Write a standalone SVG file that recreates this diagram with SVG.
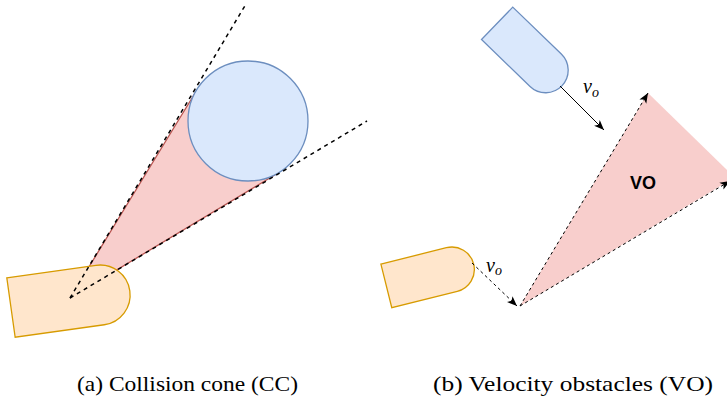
<svg xmlns="http://www.w3.org/2000/svg" width="727" height="401" viewBox="0 0 727 401">
<style>
.orange{fill:#ffe6cc;stroke:#d79b00;stroke-width:1.3}
.blue{fill:#dae8fc;stroke:#6c8ebf;stroke-width:1.3}
.pink{fill:#f8cecc;stroke:none}
.red{stroke:#b85450;stroke-width:1.3;fill:none}
.dashL{stroke:#000;stroke-width:1.5;stroke-dasharray:4 4;fill:none}
.dashR{stroke:#000;stroke-width:1;stroke-dasharray:3 3;fill:none}
.solid{stroke:#000;stroke-width:1;fill:none}
.math{font-family:"Liberation Serif",serif;font-style:italic;fill:#000}
.cap{font-family:"Liberation Serif",serif;font-size:21px;fill:#000}
.vo{font-family:"Liberation Sans",Arial,sans-serif;font-weight:bold;font-size:18px;fill:#000;text-anchor:middle}
</style>
<defs>
<marker id="arr" viewBox="0 0 10 10" refX="10" refY="5" markerWidth="10" markerHeight="10" orient="auto" markerUnits="userSpaceOnUse">
<path d="M0,1 L10,5 L0,9 L2.5,5 Z" fill="#000"/>
</marker>
</defs>
<g id="cone-left">
<path class="pink" d="M70,298 L196.9,90 A60 60 0 0 0 278.9,172.5 Z"/>
<path class="red" d="M70,298 L196.9,90 M70,298 L278.9,172.5"/>
</g>
<g id="agent-left">
<path class="orange" transform="translate(70.4,299.2) rotate(-8)" d="M-60,-30 L30,-30 A30 30 0 0 1 30,30 L-60,30 Z"/>
</g>
<g id="obstacle-left">
<circle class="blue" cx="248" cy="121" r="60"/>
</g>
<g id="vo-region">
<path class="pink" d="M520,306 L648,93 L727,170 L727,182 Z"/>
<text class="vo" x="643" y="188.5">VO</text>
</g>
<g id="agent-right">
<path class="orange" transform="translate(430,275) rotate(-14)" d="M-45,-22.5 L22.5,-22.5 A22.5 22.5 0 0 1 22.5,22.5 L-45,22.5 Z"/>
</g>
<g id="obstacle-right">
<path class="blue" transform="translate(529.5,54.6) rotate(44)" d="M-45,-22.5 L22.5,-22.5 A22.5 22.5 0 0 1 22.5,22.5 L-45,22.5 Z"/>
</g>
<g id="connectors">
<line class="dashL" x1="70" y1="298" x2="246" y2="4"/>
<line class="dashL" x1="70" y1="298" x2="367" y2="121"/>
<line class="solid" x1="560" y1="86" x2="604" y2="130" marker-end="url(#arr)"/>
<line class="dashR" x1="472" y1="263" x2="517" y2="306" marker-end="url(#arr)"/>
<line class="dashR" x1="520" y1="306" x2="648" y2="93" marker-end="url(#arr)"/>
<line class="dashR" x1="520" y1="306" x2="730" y2="181" marker-end="url(#arr)"/>
</g>
<g id="labels">
<text class="math" x="583" y="93" font-size="20">v<tspan font-size="14" dy="3.5">o</tspan></text>
<text class="math" x="486" y="271.5" font-size="20">v<tspan font-size="14" dy="3.5">o</tspan></text>
<text class="cap" x="77" y="391" textLength="221" lengthAdjust="spacingAndGlyphs">(a) Collision cone (CC)</text>
<text class="cap" x="433" y="391" textLength="280" lengthAdjust="spacingAndGlyphs">(b) Velocity obstacles (VO)</text>
</g>
</svg>
